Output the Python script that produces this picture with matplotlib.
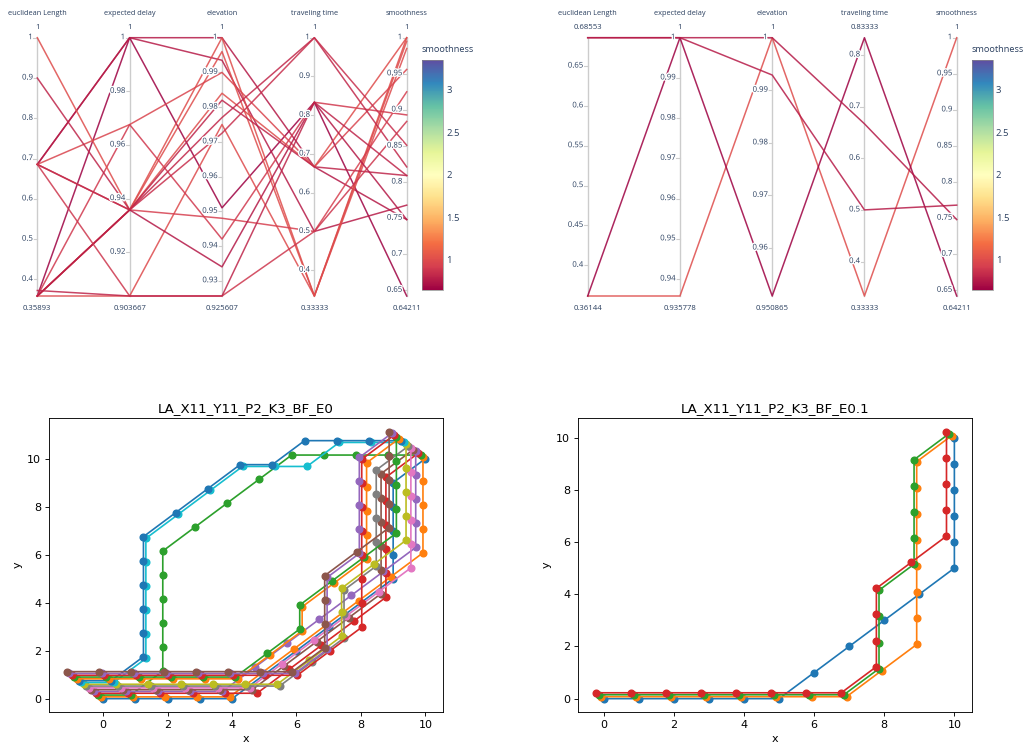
import matplotlib
matplotlib.use('Agg')
import matplotlib.pyplot as plt
import matplotlib.patheffects as pe
from matplotlib.colors import Normalize
from matplotlib.cm import ScalarMappable
import numpy as np

W, H = 1024, 745
fig = plt.figure(figsize=(W / 100, H / 100), dpi=100)

# ---------------- parallel coordinates data ----------------
dims = ['euclidean Length', 'expected delay', 'elevation', 'traveling time', 'smoothness']

# E0 (16 paths)
e0_euclid = [0.35893, 0.68553, 0.68553, 0.35893, 0.35893, 0.35893, 0.68553, 0.35893,
             1.0, 0.9, 0.68553, 0.68553, 0.35893, 0.35893, 0.68553, 0.3726]
e0_delay = [1.0, 1.0, 1.0, 0.935778, 0.935778, 0.903667, 0.9676, 0.9676,
            0.935778, 0.935778, 0.935778, 0.935778, 0.935778, 0.935778, 0.903667, 0.903667]
e0_elev = [0.951, 1.0, 0.9935, 1.0, 0.996, 0.975, 0.99, 0.942,
           0.984, 0.982, 0.977, 0.9725, 0.948, 0.934, 0.925607, 0.925607]
e0_time = [0.83333, 0.66667, 0.5, 0.33333, 0.33333, 0.33333, 0.66667, 0.83333,
           0.66667, 0.66667, 1.0, 1.0, 0.5, 0.83333, 0.5, 0.83333]
e0_smooth = [0.64211, 0.748, 0.768, 1.0, 0.995, 0.985, 0.956, 0.893,
             1.0, 0.809, 0.821, 0.851, 0.925, 0.748, 0.884, 0.809]
e0_ticks = [[0.4, 0.5, 0.6, 0.7, 0.8, 0.9, 1],
            [0.92, 0.94, 0.96, 0.98, 1],
            [0.93, 0.94, 0.95, 0.96, 0.97, 0.98, 0.99, 1],
            [0.4, 0.5, 0.6, 0.7, 0.8, 0.9, 1],
            [0.65, 0.7, 0.75, 0.8, 0.85, 0.9, 0.95, 1]]

# E0.1 (4 paths)
e01_euclid = [0.36144, 0.36144, 0.68553, 0.68553]
e01_delay = [0.935778, 1.0, 1.0, 1.0]
e01_elev = [1.0, 0.950865, 1.0, 0.9929]
e01_time = [0.33333, 0.83333, 0.66667, 0.5]
e01_smooth = [1.0, 0.64211, 0.748, 0.768]
e01_ticks = [[0.4, 0.45, 0.5, 0.55, 0.6, 0.65],
             [0.94, 0.95, 0.96, 0.97, 0.98, 0.99, 1],
             [0.96, 0.97, 0.98, 0.99, 1],
             [0.4, 0.5, 0.6, 0.7, 0.8],
             [0.65, 0.7, 0.75, 0.8, 0.85, 0.9, 0.95, 1]]

color_min, color_max = 0.64211, 3.35
cbar_ticks = [1, 1.5, 2, 2.5, 3]

# ---------------- path data (grid points) ----------------
E0_P00 = [(0,0),(1,0),(2,0),(3,0),(4,0),(5,1),(6,2),(7,3),(8,4),(9,5),(9,6),(9,7),(9,8),(9,9),(10,10)]
E0_P01 = [(0,0),(1,0),(2,0),(3,0),(4,0),(5,1),(6,2),(7,3),(8,4),(9,5),(10,6),(10,7),(10,8),(10,9),(10,10)]
E0_P02 = [(0,0),(1,0),(2,1),(2,2),(2,3),(2,4),(2,5),(2,6),(3,7),(4,8),(5,9),(6,10),(7,10),(8,10),(9,10),(10,10)]
E0_P03 = [(0,0),(1,0),(2,0),(3,0),(4,0),(5,0),(6,1),(7,2),(8,3),(9,4),(9,5),(9,6),(9,7),(9,8),(9,9),(10,10)]
E0_P04 = [(0,0),(1,0),(2,0),(3,0),(4,0),(5,1),(6,2),(7,3),(8,4),(9,5),(10,6),(10,7),(10,8),(10,9),(10,10)]
E0_P05 = [(0,0),(1,0),(2,0),(3,0),(4,0),(5,0),(6,1),(7,2),(8,3),(9,4),(9,5),(9,6),(9,7),(9,8),(9,9),(10,10)]
E0_P06 = [(0,0),(1,0),(2,0),(3,0),(4,0),(5,0),(6,1),(7,2),(8,3),(9,4),(10,5),(10,6),(10,7),(10,8),(10,9),(10,10)]
E0_P07 = [(0,0),(1,0),(2,0),(3,0),(4,0),(5,0),(6,0),(7,1),(8,2),(8,3),(8,4),(9,5),(9,6),(9,7),(9,8),(9,9),(10,10)]
E0_P08 = [(0,0),(1,0),(2,0),(3,0),(4,0),(5,0),(6,0),(7,1),(8,2),(8,3),(8,4),(9,5),(10,6),(10,7),(10,8),(10,9),(10,10)]
E0_P09 = [(0,0),(1,0),(2,1),(2,2),(2,3),(2,4),(2,5),(2,6),(3,7),(4,8),(5,9),(6,9),(7,9),(8,10),(9,10),(10,10)]
E0_P10 = [(0,0),(1,0),(2,1),(2,2),(2,3),(2,4),(2,5),(2,6),(3,7),(4,8),(5,9),(6,9),(7,10),(8,10),(9,10),(10,10)]
E0_P11 = [(0,0),(1,0),(2,0),(3,0),(4,0),(5,0),(6,1),(7,2),(7,3),(8,4),(9,5),(9,6),(9,7),(9,8),(9,9),(10,10)]
E0_P12 = [(0,0),(1,0),(2,0),(3,0),(4,0),(5,0),(6,1),(7,2),(7,3),(8,4),(9,5),(10,6),(10,7),(10,8),(10,9),(10,10)]
E0_P13 = [(0,0),(1,0),(2,0),(3,0),(4,0),(5,0),(6,0),(7,0),(8,1),(9,2),(9,3),(9,4),(9,5),(9,6),(9,7),(9,8),(9,9),(10,10)]
E0_P14 = [(0,0),(1,0),(2,0),(3,0),(4,0),(5,0),(6,0),(7,0),(8,1),(8,2),(8,3),(8,4),(9,5),(9,6),(9,7),(9,8),(9,9),(10,10)]
E0_P15 = [(0,0),(1,0),(2,0),(3,0),(4,0),(5,0),(6,0),(7,0),(8,1),(8,2),(8,3),(8,4),(9,5),(10,6),(10,7),(10,8),(10,9),(10,10)]

E01_P0 = [(0,0),(1,0),(2,0),(3,0),(4,0),(5,0),(6,1),(7,2),(8,3),(9,4),(10,5),(10,6),(10,7),(10,8),(10,9),(10,10)]
E01_P1 = [(0,0),(1,0),(2,0),(3,0),(4,0),(5,0),(6,0),(7,0),(8,1),(9,2),(9,3),(9,4),(9,5),(9,6),(9,7),(9,8),(9,9),(10,10)]
E01_P2 = [(0,0),(1,0),(2,0),(3,0),(4,0),(5,0),(6,0),(7,0),(8,1),(8,2),(8,3),(8,4),(9,5),(9,6),(9,7),(9,8),(9,9),(10,10)]
E01_P3 = [(0,0),(1,0),(2,0),(3,0),(4,0),(5,0),(6,0),(7,0),(8,1),(8,2),(8,3),(8,4),(9,5),(10,6),(10,7),(10,8),(10,9),(10,10)]

paths_e0 = [E0_P00, E0_P01, E0_P02, E0_P03, E0_P04, E0_P05, E0_P06, E0_P07,
            E0_P08, E0_P09, E0_P10, E0_P11, E0_P12, E0_P13, E0_P14, E0_P15]
paths_e01 = [E01_P0, E01_P1, E01_P2, E01_P3]

# ---------------- helpers ----------------
TXT = '#2a3f5f'
PFONT = 'Open Sans'
halo = [pe.withStroke(linewidth=2.0, foreground='white')]
cmap = plt.get_cmap('Spectral')
cnorm = Normalize(vmin=color_min, vmax=color_max)


def px_rect(x0, y0, x1, y1):
    return [x0 / W, 1 - y1 / H, (x1 - x0) / W, (y1 - y0) / H]


def fmt(v):
    return '{:.6g}'.format(v)


def parcoords(rect, columns, ticks, cbar_rect):
    ax = fig.add_axes(px_rect(*rect))
    n_ax = len(columns)
    ax.set_xlim(0, n_ax - 1)
    ax.set_ylim(0, 1)
    ax.axis('off')
    data = np.array(columns, dtype=float)
    lo = data.min(axis=1)
    hi = data.max(axis=1)
    nd = (data - lo[:, None]) / (hi - lo)[:, None]
    xs = np.arange(n_ax)
    width_px = rect[2] - rect[0]
    unit = (n_ax - 1) / width_px  # data units per pixel
    for k in range(data.shape[1]):
        ax.plot(xs, nd[:, k], color=cmap(cnorm(data[-1, k])), lw=1.1, alpha=0.85,
                solid_joinstyle='round', zorder=2, clip_on=False)
    for j in range(n_ax):
        ax.plot([j, j], [0, 1], color='#cccccc', lw=1.0, zorder=1, clip_on=False)
        for t in ticks[j]:
            y = (t - lo[j]) / (hi[j] - lo[j])
            ax.plot([j - 4 * unit, j], [y, y], color='#cccccc', lw=0.8, zorder=1, clip_on=False)
            ax.text(j - 4.5 * unit, y, fmt(t), ha='right', va='center', fontsize=5.6,
                    color=TXT, family=PFONT, path_effects=halo, zorder=3)
        ax.text(j, 1.0918, dims[j], ha='center', va='center', fontsize=5.3,
                color=TXT, family=PFONT)
        ax.text(j, 1.0414, fmt(hi[j]), ha='center', va='center', fontsize=5.6,
                color=TXT, family=PFONT)
        ax.text(j, -0.0503, fmt(lo[j]), ha='center', va='center', fontsize=5.6,
                color=TXT, family=PFONT)
    cax = fig.add_axes(px_rect(*cbar_rect))
    cb = fig.colorbar(ScalarMappable(norm=cnorm, cmap=cmap), cax=cax)
    cb.set_ticks(cbar_ticks)
    cb.set_ticklabels([fmt(t) for t in cbar_ticks])
    cb.ax.tick_params(length=0, labelsize=6.8, labelcolor=TXT, pad=2)
    for lab in cb.ax.get_yticklabels():
        lab.set_family(PFONT)
    cb.outline.set_linewidth(0.5)
    cb.outline.set_edgecolor('#888888')
    fig.text(cbar_rect[0] / W, 1 - 49.5 / H, dims[-1], ha='left', va='center',
             fontsize=6.6, color=TXT, family=PFONT)


parcoords((37.3, 37.7, 406.7, 296.0),
          [e0_euclid, e0_delay, e0_elev, e0_time, e0_smooth], e0_ticks,
          (421.7, 60, 443.3, 290))
parcoords((587.7, 37.7, 956.7, 296.0),
          [e01_euclid, e01_delay, e01_elev, e01_time, e01_smooth], e01_ticks,
          (971.7, 60, 993.0, 290))

# ---------------- path plots ----------------
path_shift = 0.075


def path_plot(rect, paths, title):
    ax = fig.add_axes(px_rect(*rect))
    for i, p in enumerate(paths):
        arr = np.array(p, dtype=float)
        ax.plot(arr[:, 0] - path_shift * i, arr[:, 1] + path_shift * i, '-o',
                ms=4.8, lw=1.2)
    ax.set_title(title, fontsize=9.6, pad=4.8)
    ax.set_xlabel('x', fontsize=8, labelpad=3)
    ax.set_ylabel('y', fontsize=8, labelpad=3)
    ax.tick_params(labelsize=8, length=2.8, width=0.64, pad=2.8)
    for s in ax.spines.values():
        s.set_linewidth(0.64)
    ax.set_xticks([0, 2, 4, 6, 8, 10])
    ax.set_yticks([0, 2, 4, 6, 8, 10])


path_plot((49, 418.3, 443.3, 712), paths_e0, 'LA_X11_Y11_P2_K3_BF_E0')
path_plot((578, 418.3, 972.3, 712), paths_e01, 'LA_X11_Y11_P2_K3_BF_E0.1')

fig.savefig('out.png', dpi=100)
